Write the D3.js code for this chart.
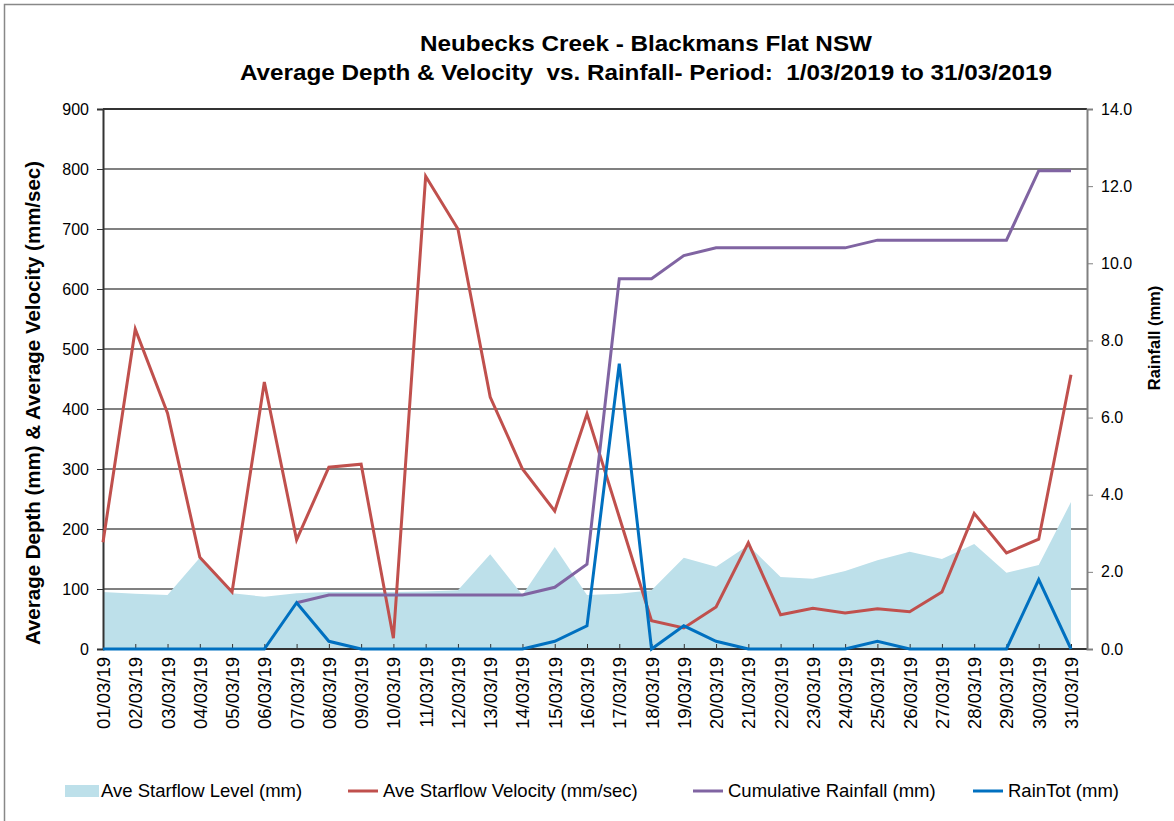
<!DOCTYPE html>
<html>
<head>
<meta charset="utf-8">
<script src="https://cdn.jsdelivr.net/npm/d3@7"></script>
<style>
  body { margin: 0; background: #fff; }
  text { font-family: "Liberation Sans", Arial, sans-serif; fill: #000; }
</style>
</head>
<body>
<svg width="1174" height="821"></svg>
<script>
// categories (days of March 2019)
var days = ["01/03/19","02/03/19","03/03/19","04/03/19","05/03/19","06/03/19","07/03/19","08/03/19",
    "09/03/19","10/03/19","11/03/19","12/03/19","13/03/19","14/03/19","15/03/19","16/03/19",
    "17/03/19","18/03/19","19/03/19","20/03/19","21/03/19","22/03/19","23/03/19","24/03/19",
    "25/03/19","26/03/19","27/03/19","28/03/19","29/03/19","30/03/19","31/03/19"];

// left axis series
var level = [95,92,90,152,93,87,93,95,95,95,96,98,158,90,170,90,
    92,98,152,137,173,120,117,130,148,162,150,175,127,140,245];
var velocity = [178,533,393,153,95,445,182,303,308,18,788,700,420,300,230,392,
    220,47,35,70,177,57,68,60,67,62,95,226,160,183,457];

// right axis series (null = not plotted)
var cumRain = [null,null,null,null,null,null,1.2,1.4,1.4,1.4,1.4,1.4,1.4,1.4,1.6,2.2,
    9.6,9.6,10.2,10.4,10.4,10.4,10.4,10.4,10.6,10.6,10.6,10.6,10.6,12.4,12.4];
var rainTot = [0,0,0,0,0,0,1.2,0.2,0,0,0,0,0,0,0.2,0.6,
    7.4,0,0.6,0.2,0,0,0,0,0.2,0,0,0,0,1.8,0];

var leftTicks = [0,100,200,300,400,500,600,700,800,900];
var rightTicks = [0,2,4,6,8,10,12,14];

var legendNames = ["Ave Starflow Level (mm)","Ave Starflow Velocity (mm/sec)","Cumulative Rainfall (mm)","RainTot (mm)"];
var colors = ["#bde0ea","#c0504d","#8064a2","#0070c0"];

var W = 984, H = 540;

var root = d3.select('svg');

// outer chart border
root.append('rect')
    .attr('x',4.5).attr('y',4.5)
    .attr('width',1200).attr('height',900)
    .attr('fill','none')
    .attr('stroke','#888')
    .attr('stroke-width',1.5);

var svg = root.append('g').attr('transform','translate(103,109)');

var scaleX = d3.scalePoint().domain(days).range([0, 968]);
var scaleY = d3.scaleLinear().domain([0,900]).range([H, 0]);
var scaleY2 = d3.scaleLinear().domain([0,14]).range([H, 0]);

// gridlines
svg.selectAll('.grid')
    .data(leftTicks.slice(1))
    .enter()
    .append('line')
    .attr('x1',0).attr('x2',W)
    .attr('y1',function(d){ return scaleY(d); })
    .attr('y2',function(d){ return scaleY(d); })
    .attr('stroke', function(d){ return d == 900 ? '#333' : '#808080'; })
    .attr('stroke-width',2);

// level area
var area = d3.area()
    .x(function(d,i){ return scaleX(days[i]); })
    .y0(H)
    .y1(function(d){ return scaleY(d); });

svg.append('path')
    .datum(level)
    .attr('d', area)
    .attr('fill', colors[0]);

// x axis
var xAxis = svg.append("g")
    .attr('transform','translate(0,'+H+')')
    .call(d3.axisBottom(scaleX).tickSizeInner(-5).tickSizeOuter(0).tickPadding(9));
xAxis.select('.domain').attr('stroke','#333').attr('stroke-width',2).attr('d','M0,0H'+W);
xAxis.selectAll('.tick line').attr('stroke','#333');
xAxis.selectAll('text')
    .attr('transform','rotate(-90)')
    .attr('x',-8).attr('y',0).attr('dy','0.35em')
    .style('text-anchor','end')
    .attr('font-size',18.5);

// left axis
var yAxis = svg.append("g")
    .call(d3.axisLeft(scaleY).tickValues(leftTicks).tickSize(6).tickPadding(8));
yAxis.select('.domain').attr('stroke','#333').attr('stroke-width',2);
yAxis.selectAll('.tick line').attr('stroke','#333');
yAxis.selectAll('text').attr('font-size',16);

// right axis
var yAxis2 = svg.append("g")
    .attr('transform','translate('+W+',0)')
    .call(d3.axisRight(scaleY2).tickValues(rightTicks).tickSize(6).tickPadding(8)
        .tickFormat(d3.format('.1f')));
yAxis2.select('.domain').attr('stroke','#808080').attr('stroke-width',2);
yAxis2.selectAll('.tick line').attr('stroke','#808080');
yAxis2.selectAll('text').attr('font-size',16);

// lines
var lineLeft = d3.line()
    .x(function(d,i){ return scaleX(days[i]); })
    .y(function(d){ return scaleY(d); });

var lineRight = d3.line()
    .defined(function(d){ return d != null; })
    .x(function(d,i){ return scaleX(days[i]); })
    .y(function(d){ return scaleY2(d); });

svg.append('path').datum(velocity).attr('d', lineLeft)
    .attr('fill','none').attr('stroke',colors[1]).attr('stroke-width',3);
svg.append('path').datum(cumRain).attr('d', lineRight)
    .attr('fill','none').attr('stroke',colors[2]).attr('stroke-width',3);
svg.append('path').datum(rainTot).attr('d', lineRight)
    .attr('fill','none').attr('stroke',colors[3]).attr('stroke-width',3);

// titles
root.append('text')
    .text('Neubecks Creek - Blackmans Flat NSW')
    .attr('x',646).attr('y',51)
    .style('text-anchor','middle')
    .attr('textLength',452).attr('lengthAdjust','spacingAndGlyphs')
    .attr('font-size',22).attr('font-weight','bold');

root.append('text')
    .text('Average Depth & Velocity  vs. Rainfall- Period:  1/03/2019 to 31/03/2019')
    .attr('x',646).attr('y',80)
    .attr('xml:space','preserve')
    .style('white-space','pre')
    .style('text-anchor','middle')
    .attr('textLength',812).attr('lengthAdjust','spacingAndGlyphs')
    .attr('font-size',22).attr('font-weight','bold');

root.append('text')
    .text('Average Depth (mm) & Average Velocity (mm/sec)')
    .attr('transform','translate(40,403)rotate(-90)')
    .style('text-anchor','middle')
    .attr('font-size',20.5).attr('font-weight','bold');

root.append('text')
    .text('Rainfall (mm)')
    .attr('transform','translate(1160,338)rotate(-90)')
    .style('text-anchor','middle')
    .attr('font-size',16.5).attr('font-weight','bold');

// legend
var legendX = [65, 348, 693, 973];
var legend = root.selectAll('.legend')
    .data(legendNames)
    .enter()
    .append('g')
    .attr('transform', function(d,i){ return 'translate('+legendX[i]+',791)'; });

legend.each(function(d,i){
    var g = d3.select(this);
    if (i == 0) {
        g.append('rect').attr('x',0).attr('y',-6).attr('width',34).attr('height',12).attr('fill',colors[0]);
    } else {
        g.append('line').attr('x1',0).attr('x2',30).attr('y1',0).attr('y2',0)
            .attr('stroke',colors[i]).attr('stroke-width',3);
    }
    g.append('text').text(d)
        .attr('x', i == 0 ? 36 : 35).attr('y',0).attr('dy','0.35em')
        .attr('font-size',18.5);
});
</script>
</body>
</html>
